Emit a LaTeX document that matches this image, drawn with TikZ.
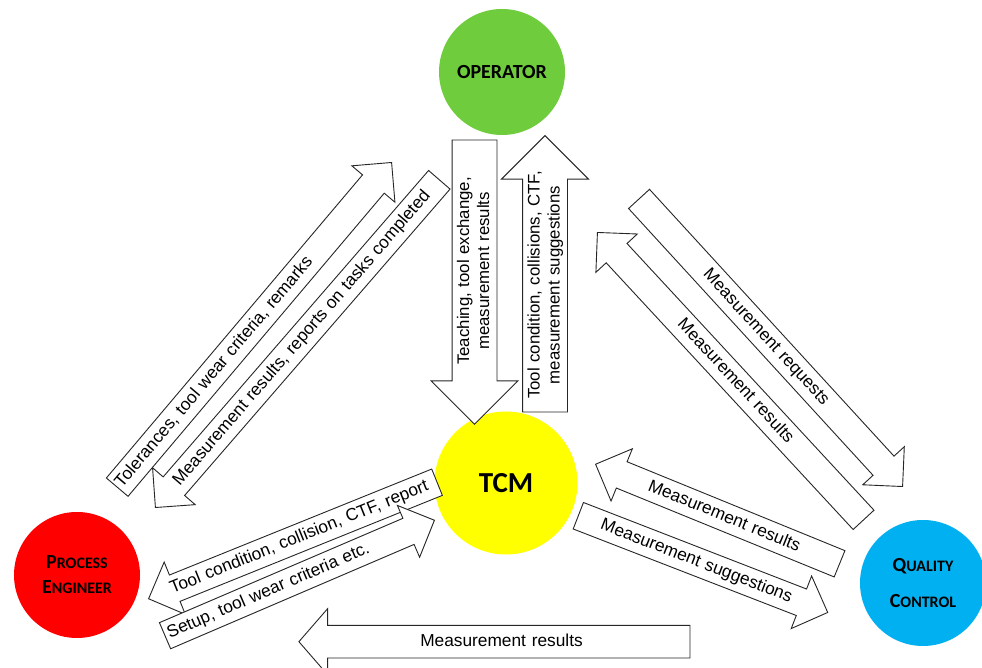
\documentclass[tikz,border=0pt]{standalone}
\usepackage{fontspec}
\setmainfont{Liberation Sans}
\newfontfamily\calibri{Carlito}
\usetikzlibrary{shapes.arrows}

\definecolor{opgreen}{RGB}{111,204,61}
\definecolor{tcmyellow}{RGB}{255,255,0}
\definecolor{pered}{RGB}{255,0,0}
\definecolor{qcblue}{RGB}{0,176,240}

% fake small caps: large initial, smaller rest
\newcommand{\bigsc}[2]{{\fontsize{20bp}{25bp}\selectfont #1}{\fontsize{16bp}{25bp}\selectfont #2}}

\tikzset{
  actor/.style={circle,inner sep=0pt,align=center,
    font=\calibri\bfseries\fontsize{20bp}{25bp}\selectfont},
  flow/.style={single arrow,draw=black!85,fill=white,line width=0.9bp,
    single arrow head extend=14bp,inner xsep=0bp,inner ysep=5.75bp,
    text height=12.5bp,text depth=3.5bp,align=center,
    font=\fontsize{17.3bp}{20bp}\selectfont},
  bigflow/.style={flow,single arrow head extend=21bp,inner ysep=4bp,
    text depth=23.5bp,font=\fontsize{16.8bp}{20bp}\selectfont},
  reverseflow/.style={shape border rotate=180}
}

\begin{document}
\begin{tikzpicture}[x=1bp,y=1bp]
\useasboundingbox (0,0) rectangle (982,668);
% the four parties
\node[actor,fill=opgreen,minimum size=126bp] (op) at (502,596) {OPERATOR};
\node[actor,fill=tcmyellow,minimum size=143bp,font=\calibri\bfseries\fontsize{29bp}{30bp}\selectfont] (tcm) at (506,185) {TCM};
\node[actor,fill=pered,minimum size=126bp] (pe) at (77,93) {\bigsc{P}{ROCESS}\\\bigsc{E}{NGINEER}};
\node[actor,fill=qcblue,minimum size=126bp,font=\calibri\bfseries\fontsize{20bp}{36bp}\selectfont] (qc) at (923,85) {\bigsc{Q}{UALITY}\\\bigsc{C}{ONTROL}};

% operator <-> tcm
\node[bigflow,reverseflow,rotate=90,text width=261bp,anchor=tip] (teach) at (474.5,243) {Teaching, tool exchange,\\measurement results};
\node[bigflow,rotate=90,text width=253bp,anchor=tip] (tcmop) at (545,533) {Tool condition, collisions, CTF,\\measurement suggestions};

% process engineer <-> operator
\node[flow,rotate=49.8,text width=406bp,inner xsep=2bp,align=left,anchor=tip] (petol) at (392,506) {Tolerances, tool wear criteria, remarks};
\node[flow,reverseflow,rotate=49.1,text width=418.5bp,anchor=tip] (oprep) at (155,160) {Measurement results, reports on tasks completed};

% operator <-> quality control
\node[flow,rotate=-47.5,text width=375bp,anchor=tip] (qcreq) at (903,181) {Measurement requests};
\node[flow,reverseflow,rotate=-47.2,text width=376.6bp,anchor=tip] (qcres) at (597,436) {Measurement results};

% tcm <-> quality control
\node[flow,reverseflow,rotate=-22.2,text width=248.4bp,anchor=tip] (tcmres) at (595,204) {Measurement results};
\node[flow,rotate=-21.2,text width=252.4bp,anchor=tip] (tcmsug) at (828.3,55.3) {Measurement suggestions};

% tcm <-> process engineer
\node[flow,reverseflow,rotate=22,text width=296bp,anchor=tip] (tcmrep) at (148,69) {Tool condition, collision, CTF, report};
\node[flow,rotate=23.2,text width=272bp,inner xsep=3bp,align=left,anchor=tip] (pesetup) at (435,148) {Setup, tool wear criteria etc.};

% quality control -> process engineer
\node[flow,reverseflow,text width=376bp,inner ysep=7.85bp,single arrow head extend=16.7bp,single arrow tip angle=98,anchor=tip] (qcpe) at (298.3,26.3) {Measurement results};
\end{tikzpicture}
\end{document}
